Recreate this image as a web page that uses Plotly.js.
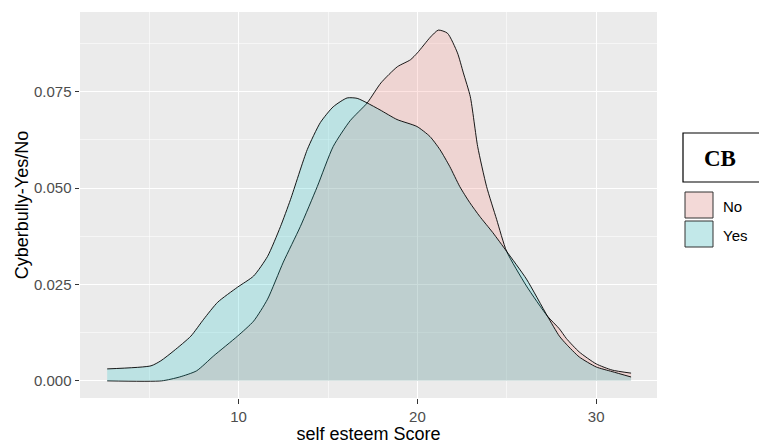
<!DOCTYPE html>
<html>
<head>
<meta charset="utf-8">
<script src="https://cdn.plot.ly/plotly-3.0.1.min.js"></script>
<style>html,body{margin:0;padding:0;background:#fff;}#chart{width:759px;height:444px;}</style>
</head>
<body>
<div id="chart"></div>
<script>
// ---- data ----
const groups = ["No", "Yes"];
const scoreNo = [2.65, 5.70, 6.70, 7.65, 8.61, 9.94, 10.84, 11.62, 12.50, 13.45, 14.40, 15.29, 16.24, 17.19, 17.96, 18.88, 19.61, 20.00, 20.73, 21.17, 21.68, 22.24, 22.57, 22.96, 23.37, 23.87, 24.43, 24.99, 26.10, 27.27, 27.94, 28.33, 29.05, 30.00, 30.89, 31.95];
const densNo  = [0, 0, 0.0010, 0.0026, 0.0065, 0.0116, 0.0155, 0.0212, 0.0308, 0.0400, 0.0504, 0.0608, 0.0675, 0.0721, 0.0773, 0.0815, 0.0833, 0.0851, 0.0892, 0.0910, 0.0902, 0.0851, 0.0799, 0.0737, 0.0608, 0.0504, 0.0419, 0.0336, 0.0246, 0.0168, 0.0135, 0.0110, 0.0075, 0.0044, 0.0028, 0.0020];
const scoreYes = [2.65, 5.10, 5.65, 6.38, 7.33, 8.05, 8.83, 9.94, 10.84, 11.62, 12.34, 12.90, 13.84, 14.57, 15.29, 16.07, 16.63, 17.19, 17.91, 18.86, 19.97, 20.70, 21.26, 21.81, 22.37, 22.92, 23.48, 24.21, 24.99, 26.10, 27.27, 27.94, 28.33, 29.05, 30.00, 30.89, 31.95];
const densYes  = [0.0031, 0.0039, 0.0052, 0.0078, 0.0116, 0.0160, 0.0204, 0.0243, 0.0272, 0.0323, 0.0400, 0.0470, 0.0600, 0.0670, 0.0711, 0.0734, 0.0733, 0.0721, 0.0703, 0.0678, 0.0660, 0.0634, 0.0600, 0.0556, 0.0504, 0.0463, 0.0427, 0.0385, 0.0336, 0.0264, 0.0168, 0.0116, 0.0095, 0.0062, 0.0036, 0.0024, 0.0010];
const xTicks = [10, 20, 30];
const yTicks = [0, 0.025, 0.05, 0.075];
const yTickLabels = ["0.000", "0.025", "0.050", "0.075"];

const fillNo = "rgba(248,118,109,0.2)";
const fillYes = "rgba(0,191,196,0.2)";
const keyNo = "#F3D9D7";
const keyYes = "#C2E8E9";

const W = 759, H = 444;
const M = {l: 80, r: 102, t: 12, b: 46};
const pw = W - M.l - M.r, ph = H - M.t - M.b;
const px = v => (v - M.l) / pw;
const py = v => (H - M.b - v) / ph;

const traces = [
  {x: scoreNo, y: densNo, name: groups[0], type: "scatter", mode: "lines", fill: "tozeroy",
   fillcolor: fillNo, line: {color: "#000", width: 0.9, shape: "spline", smoothing: 0.6}, showlegend: false, hoverinfo: "skip"},
  {x: scoreYes, y: densYes, name: groups[1], type: "scatter", mode: "lines", fill: "tozeroy",
   fillcolor: fillYes, line: {color: "#000", width: 0.9, shape: "spline", smoothing: 0.6}, showlegend: false, hoverinfo: "skip"}
];

const font = "Liberation Sans, Arial, sans-serif";
const layout = {
  width: W, height: H,
  margin: M,
  paper_bgcolor: "#fff",
  plot_bgcolor: "#EBEBEB",
  showlegend: false,
  font: {family: font, color: "#000"},
  xaxis: {
    range: [1.13, 33.40], tickvals: xTicks, ticktext: xTicks.map(String),
    ticks: "outside", ticklen: 4.5, tickwidth: 1.1, tickcolor: "#333",
    tickfont: {family: font, size: 15, color: "#4D4D4D"},
    showgrid: true, gridcolor: "#fff", gridwidth: 1.1, zeroline: false, showline: false,
    minor: {dtick: 5, tick0: 0, showgrid: true, gridcolor: "#fff", gridwidth: 0.55},
    title: {text: "self esteem Score", font: {family: font, size: 18, color: "#000"}, standoff: 9}
  },
  yaxis: {
    range: [-0.00445, 0.0957], tickvals: yTicks, ticktext: yTickLabels,
    ticks: "outside", ticklen: 4.5, tickwidth: 1.1, tickcolor: "#333",
    tickfont: {family: font, size: 15, color: "#4D4D4D"},
    showgrid: true, gridcolor: "#fff", gridwidth: 1.1, zeroline: false, showline: false,
    minor: {dtick: 0.0125, tick0: 0, showgrid: true, gridcolor: "#fff", gridwidth: 0.55},
    title: {text: "Cyberbully-Yes/No", font: {family: font, size: 18, color: "#000"}, standoff: 0}
  },
  shapes: [
    {type: "rect", xref: "paper", yref: "paper", x0: px(683), x1: px(775), y0: py(182), y1: py(133),
     line: {color: "#000", width: 1.2}, fillcolor: "#fff", layer: "above"},
    {type: "rect", xref: "paper", yref: "paper", x0: px(685), x1: px(713), y0: py(218), y1: py(192),
     line: {color: "#333", width: 1}, fillcolor: keyNo, layer: "above"},
    {type: "rect", xref: "paper", yref: "paper", x0: px(685), x1: px(713), y0: py(247), y1: py(221),
     line: {color: "#333", width: 1}, fillcolor: keyYes, layer: "above"}
  ],
  annotations: [
    {xref: "paper", yref: "paper", x: px(720), y: py(158), text: "<b>CB</b>", showarrow: false,
     xanchor: "center", yanchor: "middle", font: {family: "Liberation Serif, Times New Roman, serif", size: 23, color: "#000"}},
    {xref: "paper", yref: "paper", x: px(721), y: py(206), text: groups[0], showarrow: false,
     xanchor: "left", yanchor: "middle", font: {family: font, size: 15, color: "#000"}},
    {xref: "paper", yref: "paper", x: px(721), y: py(235), text: groups[1], showarrow: false,
     xanchor: "left", yanchor: "middle", font: {family: font, size: 15, color: "#000"}}
  ]
};

Plotly.newPlot("chart", traces, layout, {displayModeBar: false, staticPlot: true});
</script>
</body>
</html>
